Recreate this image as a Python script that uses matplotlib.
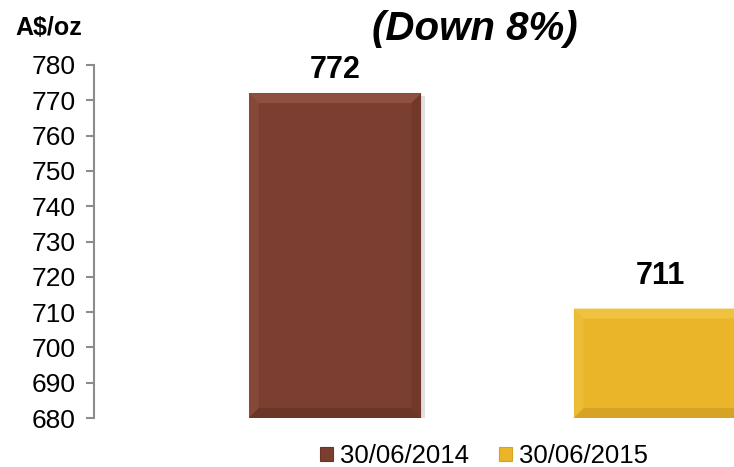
import matplotlib
matplotlib.use("Agg")
import matplotlib.pyplot as plt
import matplotlib.patheffects as pe
from matplotlib.patches import Polygon, Patch

plt.rcParams["font.family"] = ["Liberation Sans", "DejaVu Sans"]

# --- data ---
series = ["30/06/2014", "30/06/2015"]
values = [772, 711]
colors = ["#7B3F31", "#EAB528"]
light = ["#8E5141", "#F0C242"]
dark = ["#6A3427", "#D4A224"]
label_offsets = [6, 13]          # points above bar top
yticks = list(range(680, 781, 10))
unit = "A$/oz"
title = "(Down 8%)"

W, H = 734, 467
fig = plt.figure(figsize=(W / 100, H / 100), dpi=100)
ax = fig.add_axes([94 / W, 1 - 418 / H, (901 - 94) / W, (418 - 65) / H])

xs = list(range(len(values)))
bw = 0.53
ybase = yticks[0]
bars = ax.bar(xs, [v - ybase for v in values], bottom=ybase, width=bw,
              color=colors, zorder=2)
for b in bars:
    b.set_path_effects([pe.SimplePatchShadow(offset=(3, -2), shadow_rgbFace="#aaaaaa", alpha=0.35),
                        pe.Normal()])

# soft bevel on each bar
bx, by = 0.03, 2.8
for b, lc, dc in zip(bars, light, dark):
    x0, y0 = b.get_x(), b.get_y()
    x1, y1 = x0 + b.get_width(), y0 + b.get_height()
    faces = [
        ([(x0, y1), (x1, y1), (x1 - bx, y1 - by), (x0 + bx, y1 - by)], lc, 1.0),
        ([(x0, y0), (x0, y1), (x0 + bx, y1 - by), (x0 + bx, y0 + by)], lc, 0.55),
        ([(x1, y0), (x1, y1), (x1 - bx, y1 - by), (x1 - bx, y0 + by)], dc, 0.5),
        ([(x0, y0), (x1, y0), (x1 - bx, y0 + by), (x0 + bx, y0 + by)], dc, 0.9),
    ]
    for pts, c, a in faces:
        ax.add_patch(Polygon(pts, closed=True, facecolor=c, edgecolor="none", alpha=a, zorder=3))

for x, v, off in zip(xs, values, label_offsets):
    ax.annotate(str(v), (x, v), xytext=(0, off), textcoords="offset points",
                ha="center", va="bottom", fontsize=22, fontweight="bold")

ax.set_xlim(-0.742, 1.742)
ax.set_ylim(yticks[0], yticks[-1])
ax.set_yticks(yticks)
ax.set_xticks([])
for s in ["top", "right", "bottom"]:
    ax.spines[s].set_visible(False)
ax.spines["left"].set_color("#8C8C8C")
ax.spines["left"].set_linewidth(1.5)
ax.tick_params(axis="y", length=6, width=1.5, color="#8C8C8C", labelsize=19, pad=7)

fig.text(15 / W, 1 - 28 / H, unit, fontsize=18, fontweight="bold", ha="left", va="center")
fig.text(475 / W, 1 - 29 / H, title, fontsize=29, fontweight="bold", style="italic",
         ha="center", va="center")

handles = [Patch(facecolor=c, edgecolor=d, linewidth=0.8) for c, d in zip(colors, dark)]
fig.legend(handles, series, loc="center", bbox_to_anchor=(484 / W, 11 / H), ncol=2,
           frameon=False, fontsize=18.5, handlelength=0.5, handleheight=0.5,
           handletextpad=0.25, columnspacing=1.2, borderpad=0)

fig.savefig("out.png", dpi=100)
